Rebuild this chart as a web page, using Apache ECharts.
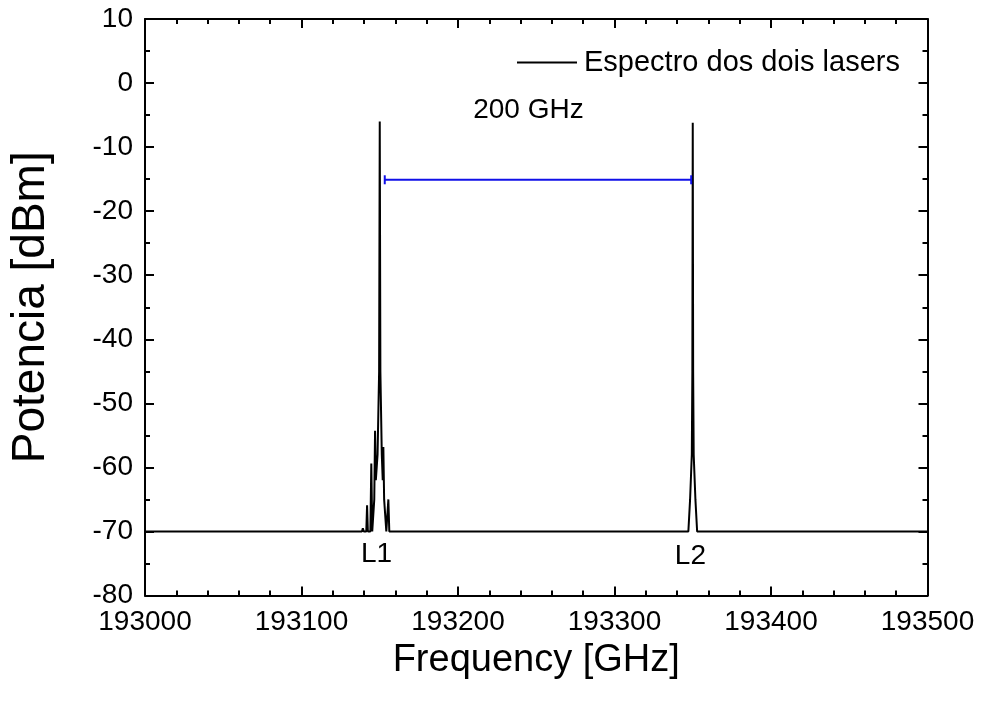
<!DOCTYPE html>
<html>
<head>
<meta charset="utf-8">
<script src="https://cdn.jsdelivr.net/npm/echarts@6/dist/echarts.min.js"></script>
<style>
  html, body { margin: 0; padding: 0; background: #fff; }
  #chart { width: 984px; height: 704px; }
</style>
</head>
<body>
<div id="chart"></div>
<script>
// Optical spectrum of the two lasers (frequency in GHz, power in dBm)
const freq = [
  193000, 193138.6, 193139.2, 193139.8, 193141.4, 193141.9, 193142.4,
  193144.0, 193144.6, 193145.2, 193145.8, 193146.5, 193147.0, 193147.5,
  193148.6, 193149.6, 193150.0, 193150.4, 193151.3, 193151.9, 193152.3,
  193152.8, 193154.2, 193154.9, 193155.5, 193156.1,
  193347.2, 193348.3, 193349.4, 193349.75, 193350.0, 193350.25, 193350.6,
  193351.7, 193352.8, 193500
];
const power = [
  -70, -70, -69.5, -70, -70, -65.9, -70,
  -70, -59.4, -70, -70, -65, -54.3, -62,
  -58, -45, -6.0, -45, -58, -62, -56.8,
  -65, -70, -70, -65.0, -70,
  -70, -65, -58, -45, -6.2, -45, -58,
  -65, -70, -70
];

// Separation marker between the two carriers
const sepFreq = [193153.2, 193349.0];
const sepPower = [-15.1, -15.1];

// Text annotations
const noteText = ['200 GHz', 'L1', 'L2'];
const noteFreq = [193245, 193148, 193348.5];
const notePower = [-4.2, -73.5, -73.8];

const xTicks = { min: 193000, max: 193500, interval: 100 };
const yTicks = { min: -80, max: 10, interval: 10 };

const seriesName = 'Espectro dos dois lasers';
const FONT = 'Liberation Sans, Arial, sans-serif';

const spectrum = freq.map((f, i) => [f, power[i]]);
const sepLine = sepFreq.map((f, i) => [f, sepPower[i]]);
const notes = noteText.map((t, i) => ({ name: t, value: [noteFreq[i], notePower[i]] }));

const axisLine = { show: true, onZero: false, lineStyle: { color: '#000', width: 2 } };

function xAxisOf(position, labels) {
  return {
    type: 'value', position: position,
    min: xTicks.min, max: xTicks.max, interval: xTicks.interval,
    axisLine: axisLine,
    axisTick: { show: true, inside: true, length: 9, lineStyle: { color: '#000', width: 2 } },
    minorTick: { show: true, splitNumber: 5, length: 5, lineStyle: { color: '#000', width: 2 } },
    splitLine: { show: false },
    axisLabel: labels ? {
      show: true, color: '#000', fontSize: 28, fontFamily: FONT, margin: 13,
      formatter: (v) => String(v)
    } : { show: false },
    name: labels ? 'Frequency [GHz]' : '',
    nameLocation: 'middle', nameGap: 38,
    nameTextStyle: { color: '#000', fontSize: 38, fontFamily: FONT }
  };
}
function yAxisOf(position, labels) {
  return {
    type: 'value', position: position,
    min: yTicks.min, max: yTicks.max, interval: yTicks.interval,
    axisLine: axisLine,
    axisTick: { show: true, inside: true, length: 9, lineStyle: { color: '#000', width: 2 } },
    minorTick: { show: true, splitNumber: 2, length: 5, lineStyle: { color: '#000', width: 2 } },
    splitLine: { show: false },
    axisLabel: labels ? { show: true, color: '#000', fontSize: 28, fontFamily: FONT, margin: 12 } : { show: false },
    name: labels ? 'Potencia [dBm]' : '',
    nameLocation: 'middle', nameGap: 91,
    nameTextStyle: { color: '#000', fontSize: 46, fontFamily: FONT }
  };
}

const chart = echarts.init(document.getElementById('chart'), null, { renderer: 'canvas' });
chart.setOption({
  backgroundColor: '#fff',
  animation: false,
  grid: { left: 143.5, right: 56.5, top: 19, bottom: 108.5, containLabel: false },
  legend: {
    data: [{ name: seriesName, icon: 'rect' }],
    left: 512, top: 43,
    itemWidth: 60, itemHeight: 2, itemGap: 10,
    itemStyle: { color: '#000' },
    textStyle: { color: '#000', fontSize: 29, fontFamily: FONT, padding: [0, 0, 0, 2] }
  },
  xAxis: [xAxisOf('bottom', true), xAxisOf('top', false)],
  yAxis: [yAxisOf('left', true), yAxisOf('right', false)],
  series: [
    {
      name: seriesName, type: 'line', data: spectrum,
      xAxisIndex: 0, yAxisIndex: 0,
      symbol: 'none', lineStyle: { color: '#000', width: 2 },
      itemStyle: { color: '#000' }, z: 3
    },
    {
      name: 'sep', type: 'line', data: sepLine,
      xAxisIndex: 0, yAxisIndex: 0,
      symbol: 'rect', symbolSize: [2, 9],
      lineStyle: { color: '#1010e8', width: 2 },
      itemStyle: { color: '#1010e8' }, z: 4
    },
    {
      name: 'notes', type: 'scatter', data: notes,
      xAxisIndex: 0, yAxisIndex: 0,
      symbolSize: 0,
      itemStyle: { opacity: 1 },
      label: {
        show: true, position: 'inside', formatter: '{b}',
        color: '#000', opacity: 1, fontSize: 28, fontFamily: FONT
      },
      z: 5
    }
  ]
});
</script>
</body>
</html>
